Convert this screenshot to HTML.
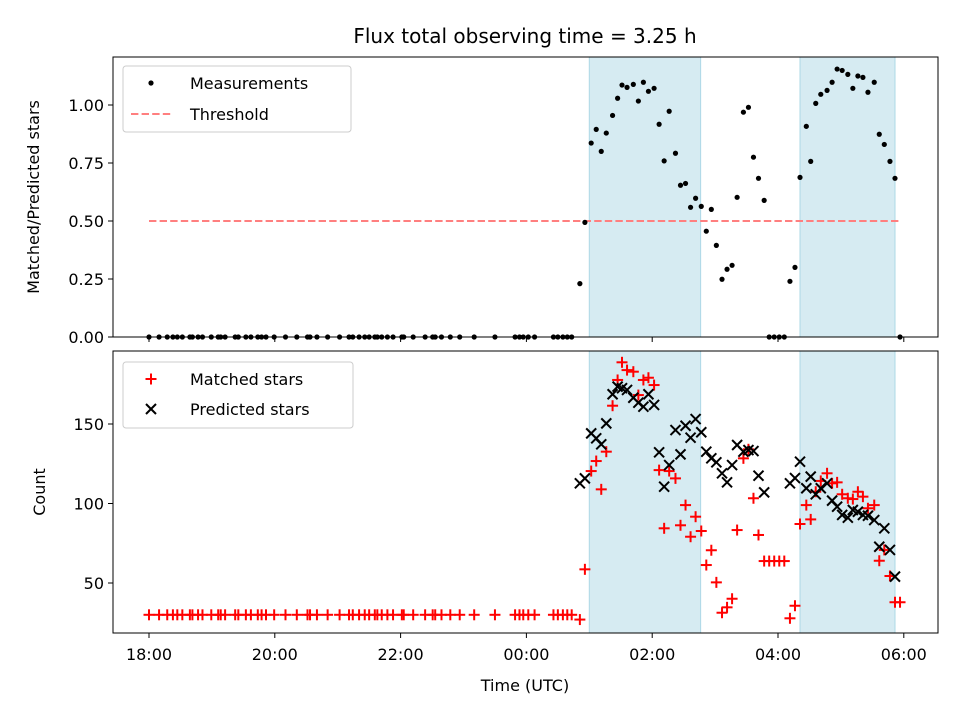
<!DOCTYPE html>
<html><head><meta charset="utf-8"><style>
body{margin:0;background:#fff}
svg{display:block;font-family:"DejaVu Sans","Liberation Sans",sans-serif}
</style></head><body>
<svg id="c" width="960" height="720" xmlns="http://www.w3.org/2000/svg"></svg>
<script>
const early=[0.00,0.16,0.29,0.38,0.45,0.53,0.65,0.69,0.78,0.85,0.99,1.10,1.14,1.21,1.37,1.42,1.54,1.62,1.73,1.79,1.86,1.99,2.17,2.35,2.52,2.56,2.67,2.84,3.03,3.18,3.24,3.34,3.43,3.50,3.59,3.63,3.70,3.79,3.88,4.02,4.05,4.20,4.39,4.51,4.55,4.65,4.79,4.94,5.17,5.50,5.82,5.89,5.95,6.03,6.13,6.43,6.50,6.58,6.65,6.72];
const lateTimes=[6.85,6.93,7.03,7.11,7.19,7.27,7.37,7.45,7.52,7.60,7.70,7.78,7.86,7.94,8.03,8.11,8.19,8.27,8.37,8.45,8.53,8.61,8.69,8.78,8.86,8.94,9.02,9.11,9.19,9.27,9.35,9.45,9.53,9.61,9.69,9.78,9.86,9.94,10.02,10.10,10.19,10.27,10.35,10.45,10.52,10.60,10.68,10.78,10.86,10.94,11.02,11.11,11.19,11.27,11.35,11.43,11.53,11.61,11.69,11.78,11.86,11.94];
const lateRatio=[0.23,0.494,0.836,0.895,0.80,0.879,0.955,1.029,1.086,1.076,1.089,1.017,1.098,1.059,1.072,0.917,0.759,0.973,0.792,0.654,0.662,0.559,0.598,0.563,0.456,0.55,0.395,0.249,0.292,0.309,0.602,0.969,0.990,0.775,0.684,0.589,0,0,0,0,0.24,0.30,0.688,0.908,0.757,1.007,1.046,1.063,1.098,1.155,1.149,1.132,1.072,1.125,1.119,1.055,1.098,0.874,0.83,0.757,0.684,0];
const lateMatched=[27,58.6,120.4,126.7,108.9,132.6,161.5,177.7,188.8,183.9,182.9,168.2,177.7,179.1,174.5,121,84.4,120.4,115.8,86.3,99,79.1,91.7,82.7,61.3,70.6,50.4,31.3,34.7,40.1,83.3,128.4,134.1,103.3,80.2,63.8,63.8,63.8,63.8,63.8,27.8,35.7,87.1,99,90,107.4,114.2,119,112.7,113.3,105.8,103.3,102.8,107.4,104.3,97,99,64,70.8,54.4,37.9,37.9];
const latePredicted=[112.7,115.8,144.1,141,137.2,150.4,168.7,173.5,172.5,171.4,166.5,163.4,160.9,168.7,162,132.2,110.6,124.2,146.2,130.9,148.9,141.4,153.1,144.8,132.6,128.4,125.9,119,113.3,124.2,136.8,132.6,133.6,133,117.5,107,null,null,null,null,112.7,116,126.3,109.6,116.9,105.8,109.6,112.7,101.8,98,92.8,91.1,95.9,94.8,92.8,92.3,89.6,72.8,84.4,70.8,54,null];
const times=early.concat(lateTimes);
const ratio=early.map(()=>0).concat(lateRatio);
const matched=early.map(()=>30).concat(lateMatched);
const predicted=early.map(()=>null).concat(latePredicted);
const spans=[[7.0,8.77],[10.35,11.86]];
const xTicks=[0,2,4,6,8,10,12];
const xTickLabels=["18:00","20:00","22:00","00:00","02:00","04:00","06:00"];
const topTicks=[0,0.25,0.5,0.75,1.0];
const botTicks=[50,100,150];
const threshold=0.5;

const NS="http://www.w3.org/2000/svg";
const svg=document.getElementById('c');
function el(tag,attrs,parent){const e=document.createElementNS(NS,tag);for(const k in attrs)e.setAttribute(k,attrs[k]);(parent||svg).appendChild(e);return e;}
const L=113,R=938;
const xs=h=>149+h*62.9;
const T={top:57,bot:337}, B={top:351,bot:633};
const ysT=v=>337-v*232;
const ysB=v=>583-(v-50)*1.59;
const FS=16;

[T,B].forEach((ax,i)=>{spans.forEach(s=>{
 const r=el('rect',{x:xs(s[0]),y:ax.top,width:xs(s[1])-xs(s[0]),height:ax.bot-ax.top,fill:'#add8e6','fill-opacity':0.5,stroke:'#add8e6','stroke-width':1});
 
 
});});

const th=el('line',{x1:xs(0),x2:xs(11.94),y1:ysT(threshold),y2:ysT(threshold),stroke:'#ff7f7f','stroke-width':2,'stroke-dasharray':'7.4,3.2'});



times.forEach((t,i)=>{const c=el('circle',{cx:xs(t),cy:ysT(ratio[i]),r:2.6,fill:'#000'});

});

function plus(x,y,name){const g=el('g',{stroke:'#f00','stroke-width':2});
el('line',{x1:x-5.5,x2:x+5.5,y1:y,y2:y},g);el('line',{x1:x,x2:x,y1:y-5.5,y2:y+5.5},g);

return g;}
function cross(x,y,name){const g=el('g',{stroke:'#000','stroke-width':2});
el('line',{x1:x-5,x2:x+5,y1:y-5,y2:y+5},g);el('line',{x1:x-5,x2:x+5,y1:y+5,y2:y-5},g);

return g;}
times.forEach((t,i)=>{plus(xs(t),ysB(matched[i]),'matched-star-point');});
times.forEach((t,i)=>{if(predicted[i]!=null)cross(xs(t),ysB(predicted[i]),'predicted-star-point');});

[T,B].forEach((ax,i)=>{const r=el('rect',{x:L,y:ax.top,width:R-L,height:ax.bot-ax.top,fill:'none',stroke:'#000','stroke-width':1});

});

xTicks.forEach((h,i)=>{const x=xs(h);
el('line',{x1:x,x2:x,y1:337,y2:342,stroke:'#000'});
el('line',{x1:x,x2:x,y1:633,y2:638,stroke:'#000'});
const t=el('text',{x:x,y:660,'text-anchor':'middle','font-size':FS});t.textContent=xTickLabels[i];

});
topTicks.forEach(v=>{const y=ysT(v);el('line',{x1:108,x2:113,y1:y,y2:y,stroke:'#000'});
const t=el('text',{x:104,y:y+6,'text-anchor':'end','font-size':FS});t.textContent=v.toFixed(2);

});
botTicks.forEach(v=>{const y=ysB(v);el('line',{x1:108,x2:113,y1:y,y2:y,stroke:'#000'});
const t=el('text',{x:104,y:y+6,'text-anchor':'end','font-size':FS});t.textContent=v;

});

function txt(s,attrs,name){const t=el('text',attrs);t.textContent=s;

return t;}
txt('Flux total observing time = 3.25 h',{x:525,y:43,'text-anchor':'middle','font-size':20},'chart-title');
txt('Time (UTC)',{x:525,y:691,'text-anchor':'middle','font-size':FS},'x-axis-title');
txt('Matched/Predicted stars',{x:0,y:0,'text-anchor':'middle','font-size':FS,transform:'translate(39,197) rotate(-90)'},'top-y-axis-title');
txt('Count',{x:0,y:0,'text-anchor':'middle','font-size':FS,transform:'translate(45,492) rotate(-90)'},'bottom-y-axis-title');

function legendBox(x,y,w,h,name){const r=el('rect',{x:x,y:y,width:w,height:h,rx:3,fill:'#fff','fill-opacity':0.8,stroke:'#ccc'});

}
legendBox(123,66,228,66,'top-legend');
el('circle',{cx:151,cy:83,r:2.6,fill:'#000'});
txt('Measurements',{x:190,y:89,'font-size':FS},'legend-entry-measurements');
el('line',{x1:131,x2:173,y1:114,y2:114,stroke:'#ff7f7f','stroke-width':2,'stroke-dasharray':'7.4,3.2'});
txt('Threshold',{x:190,y:120,'font-size':FS},'legend-entry-threshold');
legendBox(123,362,230,66,'bottom-legend');
plus(151,379,'legend-marker-matched');
txt('Matched stars',{x:190,y:385,'font-size':FS},'legend-entry-matched');
cross(151,409,'legend-marker-predicted');
txt('Predicted stars',{x:190,y:415,'font-size':FS},'legend-entry-predicted');
</script>
</body></html>
